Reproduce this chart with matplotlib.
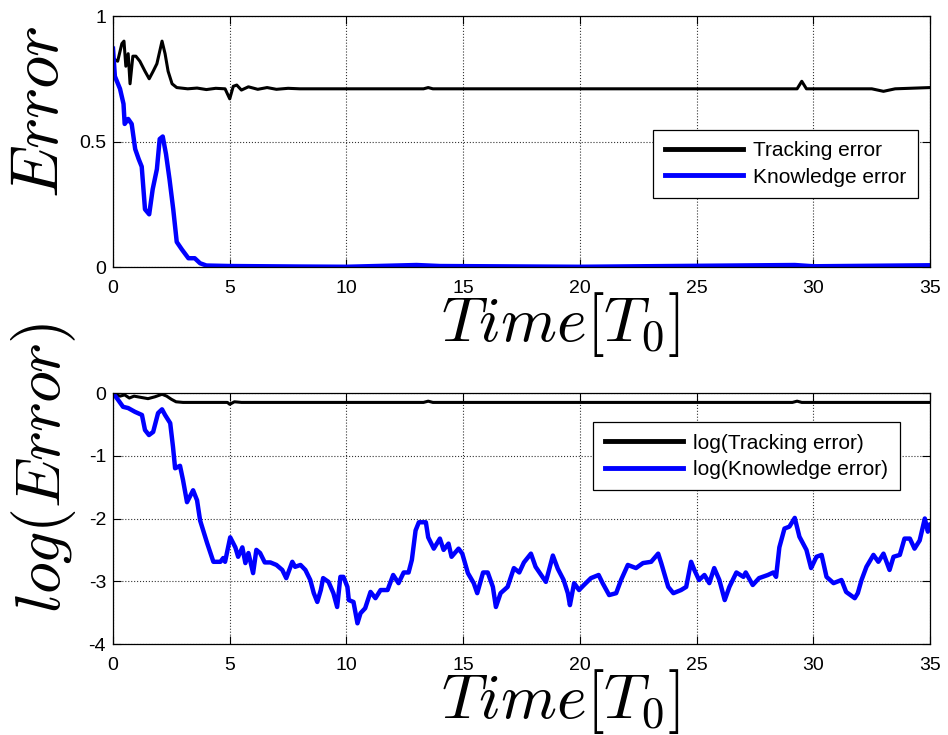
import matplotlib
matplotlib.use("Agg")
import matplotlib.pyplot as plt
import numpy as np

# Tracking / knowledge error
t_track = [0, 0.2, 0.38, 0.47, 0.55, 0.65, 0.73, 0.85, 0.98, 1.15, 1.37, 1.55, 1.72, 1.88,
           2.1, 2.23, 2.36, 2.53, 2.73, 3.2, 3.6, 4.0, 4.4, 4.8, 5.0, 5.15, 5.3, 5.5, 5.8,
           6.2, 6.6, 7.0, 7.5, 8.0, 13.3, 13.5, 13.7, 29.3, 29.5, 29.7, 32.5, 33.0, 33.5, 35]
track_err = [0.83, 0.82, 0.89, 0.90, 0.80, 0.85, 0.73, 0.84, 0.84, 0.82, 0.78, 0.75, 0.78, 0.81,
             0.90, 0.85, 0.78, 0.73, 0.715, 0.71, 0.713, 0.707, 0.712, 0.71, 0.67, 0.72, 0.725,
             0.705, 0.718, 0.708, 0.715, 0.708, 0.712, 0.71, 0.71, 0.715, 0.71, 0.71, 0.74,
             0.71, 0.71, 0.70, 0.71, 0.715]

t_know = [0, 0.08, 0.3, 0.45, 0.5, 0.65, 0.8, 0.95, 1.1, 1.23, 1.37, 1.55, 1.7, 1.88, 2.0,
          2.13, 2.27, 2.42, 2.58, 2.73, 2.95, 3.23, 3.5, 3.73, 4.0, 5.0, 8.0, 10.0, 13.0,
          14.0, 20.0, 29.2, 30.0, 35.0]
know_err = [0.87, 0.76, 0.71, 0.65, 0.57, 0.59, 0.57, 0.47, 0.43, 0.40, 0.23, 0.21, 0.31,
            0.39, 0.51, 0.52, 0.45, 0.35, 0.23, 0.10, 0.07, 0.035, 0.035, 0.015, 0.006, 0.004,
            0.002, 0.001, 0.008, 0.004, 0.001, 0.008, 0.003, 0.007]

# log10 of the errors
t_logtrack = [0, 0.3, 0.5, 0.7, 0.9, 1.2, 1.5, 1.8, 2.1, 2.3, 2.5, 2.7, 3.0, 4.0, 4.9, 5.0,
              5.2, 5.5, 13.3, 13.5, 13.7, 29.1, 29.3, 29.5, 35]
log_track = [-0.01, -0.05, -0.03, -0.08, -0.05, -0.07, -0.09, -0.06, -0.02, -0.05, -0.10,
             -0.14, -0.15, -0.15, -0.15, -0.18, -0.14, -0.15, -0.15, -0.13, -0.15, -0.15,
             -0.13, -0.15, -0.15]

t_logknow = [0, 0.2, 0.43, 0.65, 0.94, 1.24, 1.37, 1.54, 1.72, 1.93, 2.1, 2.23, 2.45, 2.57,
             2.66, 2.87, 3.0, 3.17, 3.43, 3.6, 3.73, 4.03, 4.3, 4.6, 4.72, 4.8, 5.02, 5.24,
             5.36, 5.54, 5.67, 5.8, 6.0, 6.14, 6.3, 6.5, 6.74, 7.0, 7.25, 7.42, 7.68, 7.8,
             8.03, 8.24, 8.45, 8.6, 8.75, 8.9, 9.0, 9.23, 9.44, 9.6, 9.74, 9.87, 10.04, 10.1,
             10.3, 10.47, 10.6, 10.8, 11.03, 11.24, 11.46, 11.76, 12.0, 12.23, 12.45, 12.66,
             12.8, 12.96, 13.1, 13.4, 13.5, 13.74, 14.0, 14.16, 14.37, 14.5, 14.8, 14.96,
             15.2, 15.45, 15.6, 15.85, 16.05, 16.27, 16.4, 16.6, 16.9, 17.17, 17.4, 17.6,
             17.9, 18.1, 18.54, 18.84, 19.05, 19.3, 19.48, 19.57, 19.75, 19.96, 20.17, 20.47,
             20.8, 20.97, 21.25, 21.55, 21.76, 22.05, 22.4, 22.7, 23.05, 23.35, 23.48, 23.78,
             24.0, 24.33, 24.55, 24.76, 24.9, 25.1, 25.33, 25.54, 25.75, 25.97, 26.2, 26.4,
             26.7, 27.0, 27.1, 27.4, 27.67, 28.05, 28.28, 28.4, 28.54, 28.76, 28.97, 29.2,
             29.4, 29.7, 29.9, 30.13, 30.35, 30.56, 30.86, 31.2, 31.4, 31.77, 31.9, 32.06,
             32.27, 32.57, 32.78, 33.0, 33.26, 33.43, 33.7, 33.9, 34.13, 34.33, 34.55, 34.77,
             34.9, 35.0]
log_know = [0, -0.1, -0.22, -0.24, -0.3, -0.35, -0.59, -0.67, -0.62, -0.32, -0.26, -0.35,
            -0.48, -0.86, -1.2, -1.16, -1.39, -1.74, -1.55, -1.71, -2.03, -2.39, -2.69, -2.69,
            -2.63, -2.69, -2.3, -2.46, -2.61, -2.46, -2.71, -2.55, -2.87, -2.5, -2.55, -2.7,
            -2.7, -2.74, -2.82, -2.95, -2.69, -2.77, -2.74, -2.82, -2.98, -3.19, -3.33, -3.14,
            -2.95, -3.01, -3.19, -3.41, -2.93, -2.93, -3.09, -3.3, -3.33, -3.67, -3.51, -3.43,
            -3.17, -3.27, -3.14, -3.14, -2.9, -3.03, -2.86, -2.86, -2.66, -2.19, -2.06, -2.06,
            -2.3, -2.48, -2.32, -2.5, -2.4, -2.61, -2.48, -2.56, -2.87, -3.03, -3.19, -2.86,
            -2.86, -3.09, -3.41, -3.19, -3.09, -2.79, -2.86, -2.7, -2.56, -2.77, -3.01, -2.59,
            -2.8, -2.98, -3.19, -3.38, -3.03, -3.14, -3.06, -2.95, -2.9, -3.03, -3.22, -3.19,
            -2.98, -2.74, -2.79, -2.71, -2.69, -2.56, -2.71, -3.09, -3.19, -3.14, -3.09, -2.69,
            -2.82, -2.98, -2.9, -3.03, -2.79, -2.98, -3.3, -3.09, -2.86, -2.93, -2.86, -3.06,
            -2.95, -2.9, -2.86, -2.93, -2.46, -2.16, -2.13, -1.99, -2.29, -2.5, -2.79, -2.61,
            -2.58, -2.93, -3.03, -2.98, -3.17, -3.27, -3.19, -2.98, -2.77, -2.58, -2.69, -2.56,
            -2.82, -2.61, -2.58, -2.32, -2.32, -2.48, -2.35, -2.0, -2.21, -2.1]

xticks = [0, 5, 10, 15, 20, 25, 30, 35]
yticks_top = [0, 0.5, 1]
yticks_bot = [-4, -3, -2, -1, 0]

plt.rcParams['mathtext.fontset'] = 'cm'
plt.rcParams['font.family'] = 'Liberation Sans'
plt.rcParams['axes.unicode_minus'] = False

fig = plt.figure(figsize=(9.48, 7.35), dpi=100)
ax1 = fig.add_axes([0.1192, 0.6367, 0.862, 0.3415])
ax2 = fig.add_axes([0.1192, 0.1238, 0.862, 0.3415])

ax1.plot(t_track, track_err, color='black', lw=2.2, label='Tracking error')
ax1.plot(t_know, know_err, color='#0000ff', lw=3.2, label='Knowledge error')
ax2.plot(t_logtrack, log_track, color='black', lw=2.2, label='log(Tracking error)')
ax2.plot(t_logknow, log_know, color='#0000ff', lw=3.2, label='log(Knowledge error)')

ax1.set_ylim(0, 1)
ax1.set_yticks(yticks_top)
ax1.set_yticklabels(['0', '0.5', '1'])
ax2.set_ylim(-4, 0)
ax2.set_yticks(yticks_bot)

for ax in (ax1, ax2):
    ax.set_xlim(0, 35)
    ax.set_xticks(xticks)
    ax.grid(True, linestyle=':', color='black', linewidth=0.8, alpha=0.8)
    ax.tick_params(direction='in', length=6, width=0.8, top=True, right=True,
                   labelsize=14, pad=9)
    ax.tick_params(axis='y', pad=5)
    for s in ax.spines.values():
        s.set_linewidth(0.9)
    ax.text(0.547, -0.228, r'$Time[T_0]$', transform=ax.transAxes, fontsize=46,
            ha='center', va='center')

ax1.text(-0.088, 0.618, r'$Error$', transform=ax1.transAxes, fontsize=48,
         ha='center', va='center', rotation=90)
ax2.text(-0.085, 0.70, r'$log(Error)$', transform=ax2.transAxes, fontsize=46,
         ha='center', va='center', rotation=90)

leg_kw = dict(loc='upper left', fontsize=15, frameon=True, fancybox=False,
              edgecolor='black', framealpha=1, borderaxespad=0, handlelength=3.75,
              handletextpad=0.5, labelspacing=0.35, borderpad=0.55)
lg1 = ax1.legend(bbox_to_anchor=(0.661, 0.546), **leg_kw)
lg2 = ax2.legend(bbox_to_anchor=(0.5875, 0.884), **leg_kw)
for lg in (lg1, lg2):
    lg.get_frame().set_linewidth(0.9)
    for h in lg.get_lines():
        h.set_linewidth(3.5)

fig.savefig('out.png', dpi=100)
